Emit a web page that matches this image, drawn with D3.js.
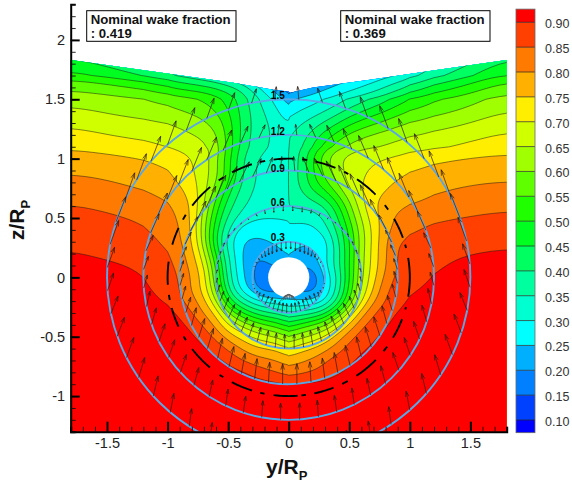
<!DOCTYPE html>
<html><head><meta charset="utf-8">
<script src="https://cdn.jsdelivr.net/npm/d3@7"></script>
<style>html,body{margin:0;padding:0;background:#fff}svg{display:block;font-family:"Liberation Sans",Arial,sans-serif}</style>
</head><body><svg id="c" width="572" height="487"></svg>
<script>
// ---- data (y/Rp, z/Rp, wake fraction in hundredths) ----
const colY=[-1.8,-1.5,-1.2,-1,-.9,-.8,-.7,-.6,-.5,-.4,-.3,-.2,-.1,-.01,.01,.1,.2,.3,.4,.5,.6,.7,.8,.9,1,1.2,1.5,1.8];
const rowZ=[1.9,1.7,1.6,1.5,1.3,1.1,1,.9,.8,.7,.6,.5,.4,.3,.2,.1,0,-.1,-.2,-.3,-.4,-.5,-.6,-.7,-.8,-.9,-1.1,-1.3];
const wake=[
[40,37,33,30,28,26,24,22,20,18,15,12,10,8, 8,12,14,15,16,17,18,19,20,22,24,28,33,41],
[54,50,45,42,40,38,36,34,31,28,24,20,16,12, 12,15,17,19,21,23,25,27,29,31,33,39,45,54],
[59.5,57.5,55,50.5,49,48,46.5,45,42.5,39.5,34,28,22,16, 16,19,22,24,26,28,30,32,35,38,41,47,52,59],
[63,61.5,60,58,57,56,55,52,48,44,38.5,33,28,21, 23,25,26.5,28.5,31,33.5,36,39,42,46,49,53.5,57.5,62.5],
[69.5,67,66,65.3,64,62.5,60.5,58,53.5,45,39.5,37,34.5,31, 33.5,36,38,40.5,44,49,52.5,55.5,57.5,60,61,63,65,69],
[75,73,72,70.5,69.5,68.5,67.5,64.5,54,44,38.5,35,34,33, 37,39,46,54,59.5,64,65.5,66.5,67,67.5,68.5,69.5,72,73.5],
[77.5,76.5,75,73,71.5,70,68,61,51.5,41.5,35,34,33.5,33, 37,40,51,59,65.5,66.5,68,69,70,71,72,74,75.5,76],
[79.5,78.5,77,75.5,73,70.5,67.5,62.5,52.5,41.5,35,33.5,33,33, 37,40,50,56.5,63,67,69,71,72.5,73.5,74.5,76.5,78,78.5],
[81.5,80.5,78.5,76.5,74.5,71.7,67.5,61,50,40.5,35,33.5,33,33, 37.5,40.5,49,54,61.5,67,70,72,74,75.5,77,78.5,79.5,80],
[83.5,82.5,81,79,77,73,67.5,56.5,45,38,34,33.5,33,33, 37,37.5,44,47,55,63.5,70,74,75.5,77,78,80,81.5,82.5],
[85.5,84,82.5,80.5,78.5,75,66,52,42,36,33.5,33,33,33, 37,36.5,36.5,40,47.5,58,69,75,77,79,80,81.5,83,84],
[87,86,84.5,82,79.5,75,63,49,38.5,33,31,30,30,30, 31,31,31.5,35,44,55,65.5,73.5,77.5,81.5,83,84.5,85.5,86.5],
[88,87,85.7,82.5,80.5,75.5,62,46.5,34.5,28.5,27,27,28,28.5, 29,28,28.5,33,40.5,51,63.5,71.5,79,81.5,84,86,87,88],
[89.5,88,87.5,83.5,81,76,63,43.5,31.5,25,23.5,24.5,26,26.5, 26.5,25,24.5,26,38.5,49,63,71.5,80,85,86.5,88,88.5,89.5],
[90.5,89.5,88.5,85.3,82,77.5,67.5,49,34,25.5,20.5,21,24,25, 25,24,25,27.5,36.5,49,64,72,80,86,87.5,89,90.2,90.5],
[91,90.5,89.8,86.5,83.5,78.5,71.5,54,35.5,26,19.5,18,23,25, 25,23,21,29,38,49.5,64,72,80,86,88,89.5,91,91.5],
[92,91.5,90.5,87.5,85,79.5,74.5,56,36.5,27,21,14.5,12,12, 12,12,14,26,33,50,65,73.2,82,86.5,88,90.5,91.5,92],
[92.5,92,91,88,85.5,79,73.5,60,39,28,21,15,17,20, 20,19,17,25,36,51,66,75,85,87.5,89.5,91,92,92.5],
[93,92.5,92,89.5,86,82,77.5,66,47,38.5,32,29,27,25, 25,25,24.5,28.5,38.5,55,70,79.5,85.5,88.5,90.5,92,93,93],
[94,93.5,92.5,91.5,90,85.5,79,76,60,51,44.5,40,39,35, 35,36,38.5,43,55,67,78,85.5,88.5,90.5,92,93,93.5,94],
[94.5,94,93.5,92.5,91,89.5,84.5,78.5,71,65,60,56,53,48, 48,52,56,60,68,76,85,87.5,89.5,91.5,92.5,93.5,94,94.5],
[95,94.5,94,93.5,92,91,88.5,84,78,74,70,67,65,60, 60,64,67,71,77.5,84.5,87.5,89.5,91.5,92.5,93,94,94.5,95],
[95.5,95,94.5,94,93,92,91,88.5,84.5,80.5,76.5,75.5,75,71, 71,74,75.5,78.5,83,87,89.5,90.5,92.5,93,93.5,94,94.5,95],
[96,95.5,95,94.5,94,93,92,92,89,85.5,83,81,80,77.5, 77.5,79,81,85,88,89.5,91,93,93.5,94,94.5,95,95,95.5],
[96,96,95.5,95,95,94,93,93,92.5,91.5,89.5,87,85,83, 83,84,85.5,87.5,89.5,90.5,92.5,93,94,94.5,95,95,95.5,96],
[96,96,96,95.5,95.5,95,95,94,94,93,92,91.5,91,90, 90,90.5,91,91,92,92.5,93,94,94.5,95,95,95.5,96,96],
[96,96,96,96,96,96,96,96,96,96,96,96,96,96, 96,96,96,96,96,96,96,96,96,96,96,96,96,96],
[97,97,97,97,97,97,97,97,97,97,97,97,97,97, 97,97,97,97,97,97,97,97,97,97,97,97,97,97]];
const levels=[10,15,20,25,30,35,40,45,50,55,60,65,70,75,80,85,90];
const bandColors=["#0000ff","#0040ff","#0080ff","#00b0ff","#00ffff","#00ffd0","#00ff9f","#00ff60","#00ff20","#20ff00","#60ff00","#a0ff00","#d0ff00","#ffee00","#ffb000","#ff7a00","#ff4000","#ff0000"];
const legendTicks=["0.10","0.15","0.20","0.25","0.30","0.35","0.40","0.45","0.50","0.55","0.60","0.65","0.70","0.75","0.80","0.85","0.90"];
const topY=[-1.8,-.458,-.128,0,.01,.2,.67,1.25,1.8];
const topZ=[1.83,1.64,1.58,1.565,1.555,1.6,1.665,1.75,1.83];
const hubRadius=.17;
const ringRadii=[.3,.6,.9,1.2,1.5];
const ringLabels=["0.3","0.6","0.9","1.2","1.5"];
const ringLabelY=[-.09,-.09,-.09,-.09,-.09];
const ringLabelZ=[.335,.63,.92,1.23,1.53];
// black propeller-radius dashes at r = 1: clockwise angle from top, degrees
const dashStart=[-7.2,6.3,12.8,27.2,34.3,52.5,60.4,74,80.6,104.4,110.6,125.7,134,150.8,158.3,171.8,175.8,-172.8,-166.4,-152,-145.2,-127.1,-119.8,-105,-98.5,-82.4,-65.4,-58.2,-40.4,-32.5,-17.7,-11.2];
const dashEnd=[2.3,8.8,22.7,29.5,45.8,55.2,70.5,75.7,99.3,105.7,120.5,128.5,146,153.8,167.8,174,179.3,-182,-168.5,-162.4,-147.3,-139.4,-122,-114.5,-101,-93.6,-74,-60.9,-52.8,-35.3,-27.9,-13.7];
// vectors: angle from top on each side, then per ring in-plane components (hundredths of Rp), toward centre and upward
const anglesLeft=[4.3,11.8,19.3,26.8,34.3,41.8,49.3,56.8,64.3,71.8,79.3,86.8,94.3,101.8,109.3,116.8,124.3,131.8,139.3,146.8,154.3,161.8,169.3,176.8];
const anglesRight=[3.2,10.7,18.2,25.7,33.2,40.7,48.2,55.7,63.2,70.7,78.2,85.7,93.2,100.7,108.2,115.7,123.2,130.7,138.2,145.7,153.2,160.7,168.2,175.7];
const inward=[
[0,0,0,0,0.5,1,1,1,0.5,0,0,0,0,0,0,1,1,2,3,3,2,2,1,0],
[0,0,0.5,1,1,1,1,1,1,1,1,1,1,2,3,4,5,5,5,4,3,2,1,0],
[1,5,7,8,8,8,8,7,6,5,4,3,3,3,4,4,5,5,4,4,3,2,1,0],
[1,5,6,7,8,8,8,8,8,7,6,4,3,3,4,5,5,5,4,3,2,2,1,0],
[1,4,5,6,7,7,8,8,8,8,7,6,5,6,6,6,5,4,3,2,2,2,1,0]];
const upward=[
[-6,-7,-7,-7,-6,-5,-3,-2,-1,-0.5,0,0,0,0.5,1,2,4,6,7,8,8,8,8,8],
[-4,-4,-3,-2,-1,1,2,3,3,3,3,3,4,6,8,10,11,12,12,12,12,12,12,12],
[12,13,15,17,19,19,18,15,12,10,9,9,10,11,13,15,16,17,17,17,17,17,17,17],
[9,11,14,17,19,20,21,20,19,16,13,11,11,13,14,15,15,15,15,14,14,14,14,14],
[11,12,14,17,19,20,21,22,23,21,20,17,15,15,16,17,17,17,16,15,13,13,13,13]];
const tuftY=[-.07,-.05,-.03,-.01,.01,.03,.05,.07];
const tuftZ=[-.2,-.195,-.19,-.185,-.185,-.19,-.195,-.2];

// ---- scales ----
const x=d3.scaleLinear([-1.8,1.8],[70.7,506.7]);
const y=d3.scaleLinear([-1.3,2.3],[431.7,4.3]);
const colIdx=d3.scaleLinear().domain(colY.map((_,i)=>i)).range(colY);
const rowIdx=d3.scaleLinear().domain(rowZ.map((_,i)=>i)).range(rowZ);
const cbar=d3.scaleLinear([.1,.9],[420,22.3]);
const svg=d3.select("#c");
const polar=(r,a)=>[x(r*Math.sin(a*Math.PI/180)),y(r*Math.cos(a*Math.PI/180))];

// ---- clip ----
const defs=svg.append("defs");
const areaPts=topY.map((v,i)=>[x(v),y(topZ[i])]).concat([[x(1.8),y(-1.3)],[x(-1.8),y(-1.3)]]);
defs.append("clipPath").attr("id","field").append("path").attr("d","M"+areaPts.join("L")+"Z");
defs.append("clipPath").attr("id","plot").append("rect").attr("x",x(-1.8)).attr("y",y(2.3)).attr("width",x(1.8)-x(-1.8)).attr("height",y(-1.3)-y(2.3));

// ---- filled contours: read grid refined only so the drawn lines are smooth ----
const K=5, nc=colY.length, nr=rowZ.length, W=(nc-1)*K+1, H=(nr-1)*K+1;
const fine=new Float64Array(W*H);
for(let j=0;j<H;j++){const r=j/K,r0=Math.min(Math.floor(r),nr-2),fr=r-r0;
  for(let i=0;i<W;i++){const c=i/K,c0=Math.min(Math.floor(c),nc-2),fc=c-c0;
    fine[j*W+i]=(1-fr)*((1-fc)*wake[r0][c0]+fc*wake[r0][c0+1])+fr*((1-fc)*wake[r0+1][c0]+fc*wake[r0+1][c0+1]);}}
d3.blur2({data:fine,width:W,height:H},2.2);
const contours=d3.contours().size([W,H]).thresholds(levels)(Array.from(fine));
const geo=d3.geoPath(d3.geoTransform({point(a,b){this.stream.point(x(colIdx((a-.5)/K)),y(rowIdx((b-.5)/K)));}}));
const field=svg.append("g").attr("clip-path","url(#field)");
field.append("path").attr("d","M"+areaPts.join("L")+"Z").attr("fill",bandColors[0]);
field.selectAll("path.band").data(contours).join("path").attr("class","band").attr("d",geo)
  .attr("fill",(d,i)=>bandColors[i+1]).attr("stroke","#1a1a1a").attr("stroke-width",.6).attr("stroke-opacity",.85);

// ---- rings, vectors, dashes ----
const over=svg.append("g").attr("clip-path","url(#plot)");
over.selectAll("ellipse").data(ringRadii).join("ellipse")
  .attr("cx",x(0)).attr("cy",y(0)).attr("rx",r=>x(r)-x(0)).attr("ry",r=>y(0)-y(r))
  .attr("fill","none").attr("stroke","#5aa7e8").attr("stroke-width",1.9);

const arrowPath=(x0,y0,x1,y1)=>{
  const p=d3.path(),a=Math.atan2(y1-y0,x1-x0),len=Math.hypot(x1-x0,y1-y0),h=Math.min(6,len*.3);
  p.moveTo(x0,y0);p.lineTo(x1,y1);
  p.moveTo(x1-h*Math.cos(a-.3),y1-h*Math.sin(a-.3));p.lineTo(x1,y1);p.lineTo(x1-h*Math.cos(a+.3),y1-h*Math.sin(a+.3));
  return p.toString();
};
const vectors=[];
ringRadii.forEach((r,ri)=>{
  anglesLeft.forEach((a,k)=>vectors.push({r,a:-a,dy:inward[ri][k]/100,dz:upward[ri][k]/100}));
  anglesRight.forEach((a,k)=>vectors.push({r,a,dy:-inward[ri][k]/100,dz:upward[ri][k]/100}));
});
over.selectAll("path.vec").data(vectors).join("path").attr("class","vec")
  .attr("d",d=>{const vy=d.r*Math.sin(d.a*Math.PI/180),vz=d.r*Math.cos(d.a*Math.PI/180);
    return arrowPath(x(vy),y(vz),x(vy+d.dy),y(vz+d.dz));})
  .attr("fill","none").attr("stroke","#2b1a10").attr("stroke-width",.7);
const arcLine=d3.line();
over.selectAll("path.dash").data(dashStart.map((s,i)=>[s,dashEnd[i]])).join("path").attr("class","dash")
  .attr("d",([s,e])=>arcLine(d3.range(0,1.001,.1).map(t=>polar(1,s+(e-s)*t))))
  .attr("fill","none").attr("stroke","#000").attr("stroke-width",1.9);

// ---- hub ----
svg.append("ellipse").attr("cx",x(0)).attr("cy",y(0)).attr("rx",x(hubRadius)-x(0)).attr("ry",y(0)-y(hubRadius)).attr("fill","#fff");
svg.selectAll("path.tuft").data(tuftY).join("path").attr("class","tuft")
  .attr("d",(v,i)=>arrowPath(x(v),y(tuftZ[i]),x(v*.4),y(tuftZ[i]+.045))).attr("fill","none").attr("stroke","#555").attr("stroke-width",.8);

// ---- ring labels ----
svg.selectAll("text.rl").data(ringLabels).join("text").attr("class","rl").text(d=>d)
  .attr("x",(d,i)=>x(ringLabelY[i])).attr("y",(d,i)=>y(ringLabelZ[i])).attr("dy","0.36em")
  .attr("text-anchor","middle").attr("font-size",10).attr("font-weight","bold").attr("fill","#000");

// ---- axes ----
const fmt=d=>String(d);
const xMajor=[-1.5,-1,-.5,0,.5,1,1.5], zMajor=[-1,-.5,0,.5,1,1.5,2];
const xMinor=d3.range(-18,19).map(d=>d/10), zMinor=d3.range(-13,24).map(d=>d/10);
const gx=svg.append("g").attr("transform",`translate(0,${y(-1.3)})`);
gx.call(d3.axisBottom(x).tickValues(xMinor).tickSize(-5).tickFormat(""));
gx.call(g=>g.select(".domain").attr("stroke-width",2).attr("stroke","#000"));
gx.selectAll(".tick line").attr("stroke","#111").attr("stroke-width",.9);
const gx2=svg.append("g").attr("transform",`translate(0,${y(-1.3)})`);
gx2.call(d3.axisBottom(x).tickValues(xMajor).tickSize(-10).tickFormat(fmt));
gx2.select(".domain").remove();
gx2.selectAll(".tick line").attr("stroke","#000").attr("stroke-width",2);
gx2.selectAll(".tick text").attr("font-family","Liberation Sans").attr("font-size",14.5).attr("fill","#222").attr("y",6).attr("dy","0.71em");
const gy=svg.append("g").attr("transform",`translate(${x(-1.8)},0)`);
gy.call(d3.axisLeft(y).tickValues(zMinor).tickSize(-5).tickFormat(""));
gy.select(".domain").attr("stroke-width",2).attr("stroke","#000");
gy.selectAll(".tick line").attr("stroke","#111").attr("stroke-width",.9);
const gy2=svg.append("g").attr("transform",`translate(${x(-1.8)},0)`);
gy2.call(d3.axisLeft(y).tickValues(zMajor).tickSize(-9).tickFormat(fmt));
gy2.select(".domain").remove();
gy2.selectAll(".tick line").attr("stroke","#000").attr("stroke-width",2);
gy2.selectAll(".tick text").attr("font-family","Liberation Sans").attr("font-size",14.5).attr("fill","#222").attr("x",-5.5);

// ---- axis titles ----
const xt=svg.append("text").attr("x",266).attr("y",474).attr("font-size",21).attr("font-weight","bold").attr("fill","#111");
xt.append("tspan").text("y/R");
xt.append("tspan").text("P").attr("font-size",13).attr("dy",6);
const zt=svg.append("text").attr("transform","translate(24,240) rotate(-90)").attr("font-size",21).attr("font-weight","bold").attr("fill","#111");
zt.append("tspan").text("z/R");
zt.append("tspan").text("P").attr("font-size",13).attr("dy",6);

// ---- note boxes ----
const notes=[{x:86.7,v:"0.419"},{x:340.7,v:"0.369"}];
notes.forEach(n=>{
  svg.append("rect").attr("x",n.x).attr("y",10.7).attr("width",149.3).attr("height",30.6).attr("fill","#fff").attr("stroke","#000").attr("stroke-width",1);
  svg.append("text").attr("x",n.x+4).attr("y",23.5).attr("font-size",13.2).attr("font-weight","bold").attr("fill","#111").text("Nominal wake fraction");
  svg.append("text").attr("x",n.x+4).attr("y",37.5).attr("font-size",13.2).attr("font-weight","bold").attr("fill","#111").text(": "+n.v);
});

// ---- colour bar ----
const edges=[.0745].concat(levels.map(d=>d/100)).concat([.9265]);
const cb=svg.append("g");
cb.selectAll("rect").data(bandColors).join("rect").attr("x",516).attr("width",19)
  .attr("y",(c,i)=>cbar(edges[i+1])).attr("height",(c,i)=>cbar(edges[i])-cbar(edges[i+1])).attr("fill",c=>c);
cb.selectAll("line").data(levels).join("line").attr("x1",516).attr("x2",535).attr("y1",d=>cbar(d/100)).attr("y2",d=>cbar(d/100)).attr("stroke","#222").attr("stroke-width",.7);
cb.append("rect").attr("x",516).attr("y",cbar(.9265)).attr("width",19).attr("height",cbar(.0745)-cbar(.9265)).attr("fill","none").attr("stroke","#666").attr("stroke-width",.8);
cb.selectAll("text").data(legendTicks).join("text").text(d=>d).attr("x",545).attr("y",d=>cbar(+d)+1.5).attr("dy","0.36em").attr("font-size",12.5).attr("fill","#333");
</script></body></html>
